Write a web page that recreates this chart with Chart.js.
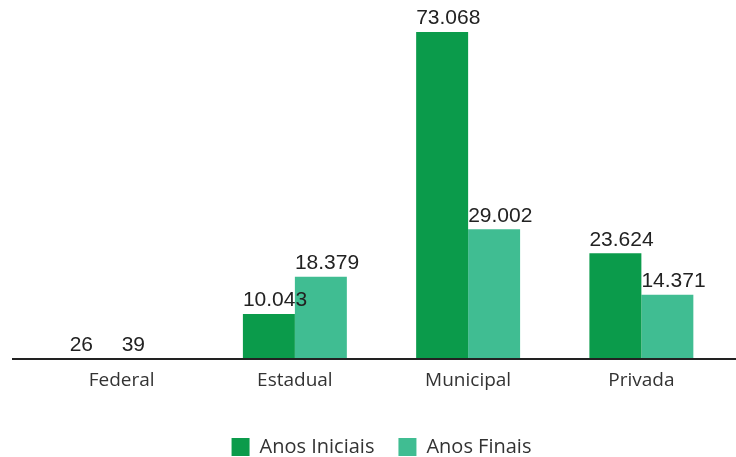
<!DOCTYPE html>
<html>
<head>
<meta charset="utf-8">
<script src="https://cdn.jsdelivr.net/npm/chart.js@4"></script>
<style>
  body { margin: 0; background: #fff; }
  #wrap { width: 736px; height: 457px; }
</style>
</head>
<body>
<div id="wrap"><canvas id="myChart"></canvas></div>
<script>
const categories = ["Federal", "Estadual", "Municipal", "Privada"];
const seriesNames = ["Anos Iniciais", "Anos Finais"];
const anosIniciais = [26, 10043, 73068, 23624];
const anosFinais = [39, 18379, 29002, 14371];
const colors = ["#0b9b4b", "#40bd92"];

// 73068 -> "73.068"
function fmt(v){
    return String(v).replace(/\B(?=(\d{3})+(?!\d))/g, ".");
}

const baseline = {
    id: "baseline",
    afterDatasetsDraw(chart){
        const ctx = chart.ctx;
        const y = chart.scales.y.getPixelForValue(0);
        ctx.save();
        ctx.strokeStyle = "#222";
        ctx.lineWidth = 2;
        ctx.beginPath();
        ctx.moveTo(12, y);
        ctx.lineTo(chart.width, y);
        ctx.stroke();
        ctx.restore();
    }
};

const valueLabels = {
    id: "valueLabels",
    afterDatasetsDraw(chart){
        const ctx = chart.ctx;
        ctx.save();
        ctx.font = "21px 'Liberation Sans'";
        ctx.fillStyle = "#222";
        ctx.textAlign = "left";
        ctx.textBaseline = "bottom";
        chart.data.datasets.forEach((ds, i) => {
            chart.getDatasetMeta(i).data.forEach((bar, j) => {
                ctx.fillText(fmt(ds.data[j]), bar.x - bar.width / 2, bar.y - 3);
            });
        });
        ctx.restore();
    }
};

new Chart(document.getElementById("myChart"), {
    type: "bar",
    data: {
        labels: categories,
        datasets: [
            { label: seriesNames[0], data: anosIniciais, backgroundColor: colors[0] },
            { label: seriesNames[1], data: anosFinais, backgroundColor: colors[1] }
        ]
    },
    options: {
        responsive: true,
        maintainAspectRatio: false,
        animation: false,
        categoryPercentage: 0.6,
        barPercentage: 1.0,
        layout: { padding: { left: 35, right: 8, top: 10, bottom: -10 } },
        plugins: {
            tooltip: { enabled: false },
            legend: {
                position: "bottom",
                labels: {
                    boxWidth: 18,
                    boxHeight: 18,
                    padding: 24,
                    color: "#333",
                    font: { family: "Open Sans", size: 20 }
                }
            }
        },
        scales: {
            x: {
                grid: { display: false },
                border: { display: false },
                ticks: { color: "#333", padding: 2, font: { family: "Open Sans", size: 19 } },
                afterFit(scale){ scale.height = 54; }
            },
            y: {
                display: false,
                min: 0,
                max: 78000
            }
        }
    },
    plugins: [baseline, valueLabels]
});
</script>
</body>
</html>
